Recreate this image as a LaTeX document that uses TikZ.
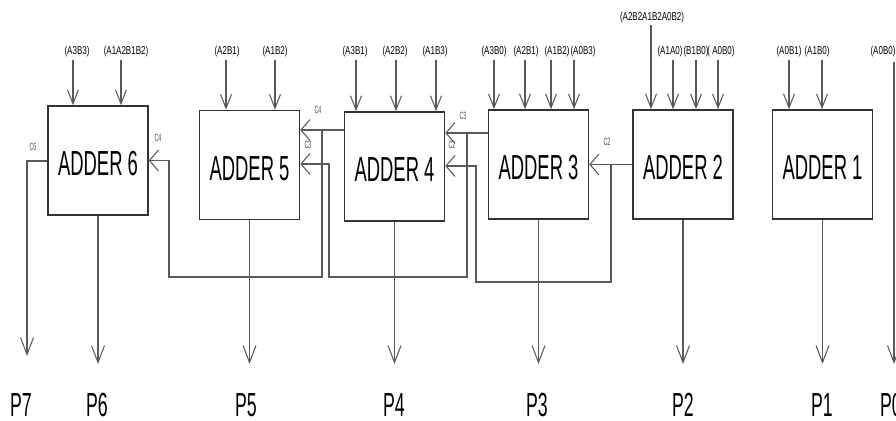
\documentclass[tikz,border=0pt]{standalone}
\usepackage{fontspec}
\setmainfont{Liberation Sans}
\newfontfamily\adderfont[FakeStretch=0.53]{Liberation Sans}
\newfontfamily\termfont[FakeStretch=0.7]{Liberation Sans}
\newfontfamily\carryfont[FakeStretch=0.5]{Liberation Sans}
\usetikzlibrary{arrows.meta}

\begin{document}
\begin{tikzpicture}[x=0.02cm,y=-0.02cm,
  adder/.style={draw=black!80,line width=0.9pt,minimum width=2cm,minimum height=2.18cm,
    inner sep=0pt,text height=0.62cm,text depth=0pt,font=\adderfont\fontsize{19.8}{20}\selectfont},
  wire/.style={draw=black!65,line width=0.6pt},
  inarr/.style={wire,-{Straight Barb[length=0.28cm,width=0.22cm]}},
  outarr/.style={wire,-{Straight Barb[length=0.34cm,width=0.26cm]}},
  carryarr/.style={wire,-{Straight Barb[length=0.18cm,width=0.42cm]}},
  term/.style={inner sep=0pt,font=\termfont\fontsize{6.5}{7}\selectfont},
  carry/.style={inner sep=0pt,text=black!70,font=\carryfont\fontsize{6}{7}\selectfont},
  prod/.style={inner sep=0pt,font=\adderfont\fontsize{19}{20}\selectfont}]

  \useasboundingbox (0,0) rectangle (896,421);

  % adders
  \node[adder] (add6) at (98,160.5) {ADDER 6};
  \node[adder] (add5) at (249.5,165) {ADDER 5};
  \node[adder] (add4) at (394.5,166.5) {ADDER 4};
  \node[adder] (add3) at (538.5,164.5) {ADDER 3};
  \node[adder] (add2) at (683,164.5) {ADDER 2};
  \node[adder] (add1) at (822.5,164.5) {ADDER 1};

  % partial product inputs
  \foreach \n/\x/\lx/\y/\txt/\b in {
      a/73/77/52/{(A3B3)}/add6, b/121/126/52/{(A1A2B1B2)}/add6,
      c/226/227/52/{(A2B1)}/add5, d/275/275/52/{(A1B2)}/add5,
      e/356/355/52/{(A3B1)}/add4, f/396/395/52/{(A2B2)}/add4, g/436/435/52/{(A1B3)}/add4,
      h/494/494/52/{(A3B0)}/add3, i/525/526/52/{(A2B1)}/add3, j/551/557/52/{(A1B2)}/add3, k/574/583/52/{(A0B3)}/add3,
      l/673/670/52/{(A1A0)}/add2, m/696/696/52/{(B1B0)}/add2, n/718/721/52/{( A0B0)}/add2,
      o/789/789/52/{(A0B1)}/add1, p/822/817/52/{(A1B0)}/add1}{
    \node[term] (in\n) at (\lx,\y) {\txt};
    \coordinate (t\n) at (\x,60);
    \draw[inarr] (t\n) -- (t\n |- \b.north);
  }
  \node[term] (inq) at (652,18) {(A2B2A1B2A0B2)};
  \coordinate (tq) at (651,25);
  \draw[inarr] (tq) -- (tq |- add2.north);

  % products
  \coordinate (tip) at (0,364);
  \foreach \k/\x/\b in {6/97/add6, 5/246/add5, 4/394/add4, 3/537/add3, 2/683/add2, 1/822/add1}{
    \node[prod] (p\k) at (\x,405) {P\k};
    \draw[outarr] (\b.south) -- (\b.south |- tip);
  }
  \node[prod] (p7) at (21,405) {P7};
  \node[prod] (p0) at (891,405) {P0};
  \node[term] (inr) at (883,52) {(A0B0)};
  \coordinate (tr) at (894,62);
  \draw[outarr] (tr) -- (tr |- tip);

  % carries
  \coordinate (c6) at (27,161);
  \draw[outarr] (add6.west |- c6) -- (c6) -- (27,356);
  \node[carry] (lc6) at (33,147) {C6};

  \coordinate (c4) at (322,130);
  \draw[carryarr] (add4.west |- c4) -- (add5.east |- c4);
  \draw[carryarr] (c4) |- (169,277) -- (169,160.5) -- (add6.east);
  \node[carry] (lc4a) at (318,110) {C4};
  \node[carry] (lc4b) at (158,138) {C4};

  \coordinate (c3) at (467,133);
  \draw[carryarr] (add3.west |- c3) -- (add4.east |- c3);
  \draw[carryarr] (c3) |- (329,277) -- (329,164) -- (add5.east |- 0,164);
  \node[carry] (lc3a) at (463,116) {C3};
  \node[carry] (lc3b) at (308,145) {C3};

  \coordinate (c2) at (611,164.5);
  \draw[carryarr] (add2.west) -- (add3.east);
  \draw[carryarr] (c2) |- (476,282) -- (476,166) -- (add4.east |- 0,166);
  \node[carry] (lc2a) at (607,142) {C2};
  \node[carry] (lc2b) at (452,145) {C2};
\end{tikzpicture}
\end{document}
